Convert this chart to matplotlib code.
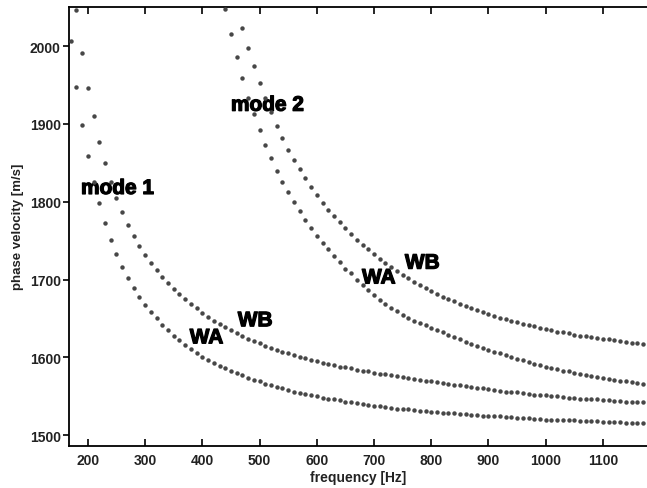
import numpy as np
import matplotlib
matplotlib.use("Agg")
import matplotlib.pyplot as plt
import matplotlib.patheffects as pe

plt.rcParams['font.family'] = ['Liberation Sans', 'DejaVu Sans']

# frequency grids [Hz] (10 Hz steps) for each computed branch
f_m1_wa = np.arange(170, 1180, 10)
f_m1_wb = np.arange(180, 1180, 10)
f_m2_wa = np.arange(440, 1180, 10)
f_m2_wb = np.arange(470, 1180, 10)

# phase velocity [m/s]
v_m1_wa = [2007, 1948, 1899, 1859, 1826, 1798, 1773, 1751, 1733, 1716,
           1702, 1689, 1677, 1667, 1658, 1650, 1642, 1635, 1628, 1622,
           1616, 1611, 1606, 1601, 1597, 1593, 1589, 1586, 1583, 1580,
           1577, 1574, 1571, 1569, 1566, 1564, 1562, 1560, 1558, 1556,
           1554, 1553, 1551, 1550, 1548, 1547, 1546, 1545, 1543, 1542,
           1541, 1540, 1539, 1538, 1537, 1536, 1535, 1534, 1534, 1533,
           1532, 1531, 1531, 1530, 1530, 1529, 1528, 1528, 1527, 1527,
           1526, 1526, 1525, 1525, 1524, 1524, 1523, 1523, 1522, 1522,
           1522, 1521, 1521, 1520, 1520, 1520, 1519, 1519, 1519, 1518,
           1518, 1518, 1518, 1517, 1517, 1517, 1517, 1516, 1516, 1516,
           1516]
v_m1_wb = [2046, 1991, 1946, 1910, 1877, 1850, 1826, 1805, 1787, 1770,
           1756, 1743, 1732, 1721, 1712, 1703, 1695, 1688, 1681, 1675,
           1669, 1663, 1657, 1652, 1647, 1643, 1639, 1635, 1631, 1627,
           1624, 1621, 1618, 1615, 1612, 1610, 1607, 1605, 1603, 1601,
           1599, 1597, 1595, 1593, 1591, 1590, 1588, 1587, 1586, 1584,
           1583, 1582, 1580, 1579, 1578, 1577, 1576, 1575, 1573, 1572,
           1571, 1570, 1569, 1568, 1567, 1566, 1565, 1564, 1563, 1562,
           1561, 1560, 1559, 1558, 1557, 1556, 1555, 1555, 1554, 1553,
           1552, 1552, 1551, 1550, 1550, 1549, 1548, 1548, 1547, 1547,
           1546, 1546, 1545, 1545, 1544, 1544, 1543, 1543, 1543, 1542]
v_m2_wa = [2048, 2016, 1986, 1959, 1934, 1913, 1892, 1873, 1856, 1840,
           1826, 1813, 1800, 1788, 1777, 1766, 1756, 1747, 1739, 1730,
           1722, 1714, 1708, 1700, 1693, 1687, 1680, 1674, 1669, 1664,
           1659, 1655, 1651, 1647, 1644, 1641, 1638, 1635, 1632, 1629,
           1626, 1623, 1620, 1617, 1615, 1612, 1610, 1607, 1605, 1603,
           1600, 1598, 1596, 1594, 1592, 1590, 1588, 1586, 1585, 1583,
           1582, 1580, 1579, 1577, 1576, 1575, 1573, 1572, 1571, 1570,
           1569, 1568, 1567, 1566]
v_m2_wb = [2023, 1998, 1974, 1953, 1933, 1915, 1898, 1882, 1867, 1854,
           1842, 1830, 1819, 1809, 1799, 1790, 1782, 1774, 1766, 1758,
           1751, 1745, 1739, 1733, 1727, 1721, 1716, 1711, 1706, 1702,
           1697, 1693, 1689, 1685, 1682, 1678, 1675, 1672, 1669, 1666,
           1663, 1661, 1658, 1656, 1653, 1651, 1649, 1647, 1645, 1643,
           1641, 1640, 1638, 1636, 1635, 1633, 1632, 1631, 1629, 1628,
           1627, 1626, 1625, 1624, 1623, 1622, 1621, 1620, 1619, 1618,
           1617]

fig = plt.figure(figsize=(6.47, 4.89), dpi=100)
ax = fig.add_axes([69/647, 42/489, 1 - 69/647, (447 - 7.5)/489])

dot = dict(linestyle='none', marker='o', markersize=3.2, color='#474747',
           markeredgewidth=0, zorder=3)
for f, v in [(f_m1_wa, v_m1_wa), (f_m1_wb, v_m1_wb),
             (f_m2_wa, v_m2_wa), (f_m2_wb, v_m2_wb)]:
    ax.plot(f, v, **dot)

ax.set_xlim(167, 1177)
ax.set_ylim(1486, 2051)
ax.set_xticks(range(200, 1101, 100))
ax.set_yticks(range(1500, 2001, 100))

# curve labels, thickened a little to look like the heavy original lettering
heavy = [pe.withStroke(linewidth=0.9, foreground='black')]
lab = dict(fontsize=15, fontweight='bold', color='black', va='baseline',
           path_effects=heavy, zorder=2)
ax.text(188, 1810, 'mode 1', **lab)
ax.text(450, 1917, 'mode 2', **lab)
ax.text(378, 1618, 'WA', **lab)
ax.text(462, 1640, 'WB', **lab)
ax.text(679, 1695, 'WA', **lab)
ax.text(754, 1714, 'WB', **lab)

ax.set_xlabel('frequency [Hz]', fontsize=10, fontweight='bold', labelpad=2,
              color='#222222')
ax.set_ylabel('phase velocity [m/s]', fontsize=9.5, fontweight='bold', labelpad=4,
              color='#222222')

for s in ['left', 'top', 'bottom']:
    ax.spines[s].set_linewidth(1.3)
ax.spines['right'].set_visible(False)
ax.tick_params(axis='x', direction='in', length=5, width=1.2, top=True,
               labelsize=10, pad=5)
ax.tick_params(axis='y', direction='out', length=4, width=1.2, labelsize=10, pad=2)
for t in ax.get_xticklabels() + ax.get_yticklabels():
    t.set_fontweight('bold')
    t.set_color('#222222')

fig.savefig('out.png', dpi=100)
